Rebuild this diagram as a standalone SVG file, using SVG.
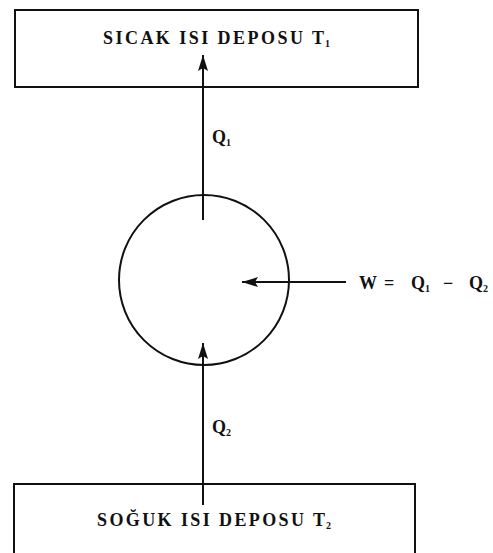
<svg xmlns="http://www.w3.org/2000/svg" width="493" height="553" viewBox="0 0 493 553">
  <style>
    .box { fill: none; stroke: #111; stroke-width: 2; }
    .ln { stroke: #111; stroke-width: 2; fill: none; }
    .lbl { font-family: "Liberation Serif", "Times New Roman", serif; font-weight: bold; fill: #111; }
    .big { font-size: 18px; }
    .q { font-size: 18px; }
    .sub { font-size: 10px; }
  </style>
  <defs>
    <marker id="ah" viewBox="0 0 16 10" refX="16" refY="5" markerWidth="16" markerHeight="10" markerUnits="userSpaceOnUse" orient="auto">
      <path d="M0,0 L16,5 L0,10 L3,5 Z" fill="#111"/>
    </marker>
  </defs>
  <rect width="493" height="553" fill="#fff"/>

  <g id="hot-reservoir">
    <rect class="box" x="15" y="10" width="403" height="77"/>
    <text class="lbl big" x="103" y="44" textLength="221" lengthAdjust="spacing">SICAK ISI DEPOSU  T</text>
    <text class="lbl sub" x="325" y="47">1</text>
  </g>

  <g id="engine">
    <circle class="ln" cx="204" cy="280" r="85"/>
  </g>

  <g id="cold-reservoir">
    <rect class="box" x="14" y="484" width="401" height="80"/>
    <text class="lbl big" x="97" y="526" textLength="228" lengthAdjust="spacing">SOĞUK ISI DEPOSU  T</text>
    <text class="lbl sub" x="326" y="529">2</text>
  </g>

  <g id="connectors">
    <line class="ln" x1="203" y1="220" x2="203" y2="55" marker-end="url(#ah)"/>
    <line class="ln" x1="203" y1="505" x2="203" y2="343" marker-end="url(#ah)"/>
    <line class="ln" x1="346" y1="282" x2="242" y2="282" marker-end="url(#ah)"/>
  </g>

  <g id="labels">
    <text class="lbl q" x="212" y="143">Q</text>
    <text class="lbl sub" x="226" y="146">1</text>
    <text class="lbl q" x="212" y="433">Q</text>
    <text class="lbl sub" x="226" y="436">2</text>
    <text class="lbl q" x="359" y="289">W</text>
    <text class="lbl q" x="384" y="289">=</text>
    <text class="lbl q" x="411" y="289">Q</text>
    <text class="lbl sub" x="425" y="292">1</text>
    <text class="lbl q" x="443" y="289">−</text>
    <text class="lbl q" x="469" y="289">Q</text>
    <text class="lbl sub" x="483" y="292">2</text>
  </g>
</svg>
